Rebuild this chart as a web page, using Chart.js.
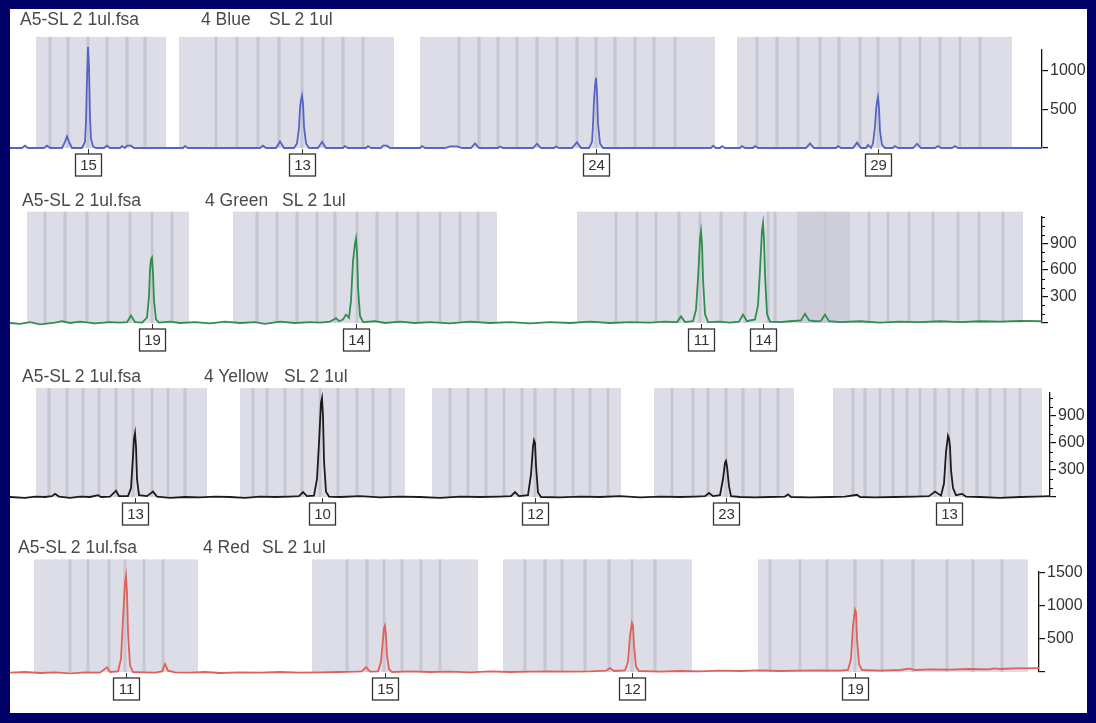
<!DOCTYPE html>
<html>
<head>
<meta charset="utf-8">
<script src="https://cdn.jsdelivr.net/npm/chart.js@4.4.0/dist/chart.umd.min.js"></script>
<style>
html, body { margin: 0; padding: 0; width: 1096px; height: 723px; overflow: hidden; background: #000066; }
#sheet { position: absolute; left: 10px; top: 9px; width: 1077px; height: 704px; background: #ffffff; }
canvas { position: absolute; left: 0; top: 0; }
.ttl { position: absolute; font: 17.5px 'Liberation Sans', Arial, sans-serif; color: #4a4a4a; white-space: nowrap; line-height: 1; }
</style>
</head>
<body>
<div id="sheet"></div>
<canvas id="blue" width="1096" height="723"></canvas>
<canvas id="green" width="1096" height="723"></canvas>
<canvas id="yellow" width="1096" height="723"></canvas>
<canvas id="red" width="1096" height="723"></canvas>

<div class="ttl" style="left:20px;top:11px">A5-SL 2 1ul.fsa</div>
<div class="ttl" style="left:201px;top:11px">4 Blue</div>
<div class="ttl" style="left:269px;top:11px">SL 2 1ul</div>
<div class="ttl" style="left:22px;top:192px">A5-SL 2 1ul.fsa</div>
<div class="ttl" style="left:205px;top:192px">4 Green</div>
<div class="ttl" style="left:282px;top:192px">SL 2 1ul</div>
<div class="ttl" style="left:22px;top:368px">A5-SL 2 1ul.fsa</div>
<div class="ttl" style="left:204px;top:368px">4 Yellow</div>
<div class="ttl" style="left:284px;top:368px">SL 2 1ul</div>
<div class="ttl" style="left:18px;top:539px">A5-SL 2 1ul.fsa</div>
<div class="ttl" style="left:203px;top:539px">4 Red</div>
<div class="ttl" style="left:262px;top:539px">SL 2 1ul</div>

<script>
// ---- data (x = scan position, y = RFU) ----

// blue dye
const blueTrace = [[10,0],[22,0],[25,30],[28,0],[44,0],[47,30],[50,0],[62,0],[65,80],[67,150],[69,80],[72,0],[82,0],[85,80],[86,350],[87,900],[88,1310],[89,1050],[90,400],[91,120],[93,20],[96,0],[104,0],[107,30],[110,0],[120,0],[122,25],[125,0],[127,30],[131,30],[134,0],[183,0],[185,25],[188,0],[260,0],[263,30],[266,0],[276,0],[280,85],[284,0],[294,0],[297,60],[299,260],[300,520],[301,620],[302,680],[303,580],[304,280],[306,60],[309,0],[318,0],[322,80],[326,0],[343,0],[345,25],[348,0],[366,0],[368,25],[371,0],[381,0],[383,30],[387,30],[390,0],[420,0],[422,25],[425,0],[445,0],[450,20],[457,20],[462,0],[471,0],[475,60],[479,0],[498,0],[500,20],[503,0],[533,0],[537,55],[541,0],[554,0],[556,20],[559,0],[572,0],[577,75],[581,0],[589,0],[592,80],[593,300],[594,620],[595,800],[596,910],[597,720],[598,320],[600,60],[603,0],[711,0],[713,30],[716,0],[720,0],[722,25],[725,0],[740,0],[742,25],[745,0],[753,0],[755,25],[758,0],[806,0],[810,60],[814,0],[836,0],[838,25],[841,0],[853,0],[857,70],[861,0],[866,0],[868,40],[871,0],[873,60],[875,280],[876,480],[877,600],[878,660],[879,520],[880,220],[882,40],[885,0],[893,0],[895,25],[898,0],[913,0],[917,55],[921,0],[935,0],[938,25],[941,0],[952,0],[955,25],[958,0],[1042,0]];
const blueBins = [[36,166],[179,394],[420,715],[737,1012]];
const blueBinLines = [50,68,88,107,127,145,216,237,258,279,302,323,343,363,459,479,498,517,537,557,577,596,615,635,654,675,757,777,798,820,839,860,878,900,920,940,960,980];
const blueCalls = [[88,'15'],[302,'13'],[596,'24'],[878,'29']];
const blueTicks = [0,500,1000];

// green dye
const greenTrace = [[10,0],[20,-10],[30,10],[40,-15],[55,5],[62,20],[70,0],[80,15],[95,-5],[110,10],[120,5],[127,10],[131,85],[135,10],[142,5],[147,60],[149,300],[150,600],[151,720],[152,740],[153,560],[154,250],[156,40],[159,5],[170,15],[180,0],[195,10],[210,-5],[225,15],[240,0],[255,10],[265,-10],[280,15],[295,0],[310,10],[320,5],[330,15],[336,55],[339,20],[343,40],[346,95],[349,60],[351,250],[353,700],[355,900],[356,955],[357,800],[358,400],[360,80],[363,10],[375,20],[385,0],[400,15],[415,0],[430,10],[450,-5],[470,15],[490,0],[510,10],[530,-5],[550,10],[570,0],[590,15],[610,0],[630,10],[650,5],[665,15],[677,10],[681,75],[685,10],[693,20],[696,150],[698,500],[700,950],[701,1040],[702,900],[703,500],[705,100],[708,10],[720,15],[730,5],[739,15],[743,95],[747,20],[755,40],[758,200],[760,600],[762,1050],[763,1130],[764,950],[765,550],[767,100],[770,15],[780,10],[790,20],[801,30],[805,105],[809,30],[815,20],[821,25],[825,95],[829,20],[840,10],[860,20],[880,5],[900,15],[920,10],[940,20],[960,10],[980,20],[1000,15],[1020,25],[1042,20]];
const greenBins = [[27,189],[233,497],[577,1023]];
const greenDarkBins = [[797,850]];
const greenBinLines = [45,65,87,108,130,152,172,257,277,297,317,335,357,377,397,418,440,460,478,616,637,656,679,700,721,745,768,775,825,869,888,909,933,958,979,1003];
const greenCalls = [[152,'19'],[356,'14'],[701,'11'],[763,'14']];
const greenTicks = [0,300,600,900];
const greenMinor = [100,200,400,500,700,800,1000,1100,1200];

// yellow dye (drawn in black)
const yellowTrace = [[10,0],[25,-10],[35,5],[45,0],[52,10],[55,35],[59,5],[70,-10],[80,5],[90,0],[98,20],[101,0],[110,5],[116,70],[119,10],[128,10],[131,100],[133,450],[134,650],[135,710],[136,560],[137,200],[139,20],[147,10],[153,60],[157,5],[170,-10],[185,0],[200,-5],[215,5],[230,0],[245,-10],[260,5],[275,0],[290,5],[299,10],[303,55],[307,10],[314,15],[317,200],[319,600],[321,1050],[322,1100],[323,900],[324,400],[326,60],[329,5],[340,0],[360,10],[380,-5],[400,5],[420,0],[440,-10],[460,5],[480,0],[500,5],[511,10],[515,55],[519,10],[528,20],[531,250],[533,560],[534,630],[535,600],[536,350],[538,50],[541,0],[560,-5],[580,5],[600,0],[620,10],[640,-5],[660,5],[680,0],[695,5],[705,10],[709,45],[713,10],[720,20],[723,200],[725,380],[726,400],[727,340],[729,120],[731,10],[740,0],[755,-5],[770,0],[785,5],[788,30],[791,0],[810,-5],[830,0],[845,5],[857,25],[860,0],[875,-5],[895,0],[915,5],[929,10],[935,60],[941,15],[944,150],[946,500],[948,680],[949,650],[950,560],[951,300],[953,100],[956,20],[962,35],[966,5],[980,0],[1000,-10],[1020,0],[1035,5],[1050,10]];
const yellowBins = [[36,207],[240,405],[432,621],[654,794],[833,1042]];
const yellowBinLines = [49,67,83,99,116,133,152,168,185,253,267,285,302,320,338,357,373,390,450,468,486,504,522,535,555,573,590,608,672,693,708,726,743,760,778,853,865,880,893,907,920,935,949,963,977,990,1005,1020];
const yellowCalls = [[135,'13'],[322,'10'],[535,'12'],[726,'23'],[949,'13']];
const yellowTicks = [0,300,600,900];
const yellowMinor = [100,200,400,500,700,800,1000,1100];

// red dye
const redTrace = [[10,-10],[25,0],[40,-15],[55,-5],[70,-20],[85,-5],[100,-10],[107,70],[110,0],[118,10],[121,200],[123,800],[125,1350],[126,1450],[127,1200],[128,600],[130,100],[133,0],[145,-5],[155,-10],[162,10],[165,120],[168,20],[175,-5],[190,-10],[205,0],[220,-15],[240,-5],[260,-10],[280,0],[300,-10],[320,-5],[340,0],[355,5],[362,10],[366,75],[370,5],[378,10],[381,150],[383,500],[384,660],[385,700],[386,550],[387,250],[389,40],[392,0],[410,10],[430,0],[450,5],[470,-5],[490,10],[510,0],[530,5],[550,10],[570,5],[590,10],[606,20],[610,60],[614,15],[625,25],[628,150],[630,550],[632,740],[633,700],[634,400],[636,80],[639,15],[660,5],[680,15],[700,10],[720,20],[740,15],[760,25],[780,15],[800,20],[820,25],[840,20],[848,30],[851,200],[853,700],[855,940],[856,900],[857,500],[859,120],[862,30],[880,20],[900,30],[910,50],[915,30],[930,40],[950,35],[970,45],[990,40],[994,55],[1000,45],[1015,55],[1039,60]];
const redBins = [[34,198],[312,478],[503,692],[758,1028]];
const redBinLines = [70,88,109,125,144,163,347,367,384,402,421,440,525,545,562,585,609,632,655,770,800,827,855,882,913,947,973,1002];
const redCalls = [[126,'11'],[385,'15'],[632,'12'],[855,'19']];
const redTicks = [0,500,1000,1500];

const FONT = "'Liberation Sans', Arial, sans-serif";

// draws the allele bins under the trace and the boxed calls over it
function makeLayer(p) {
  return {
    id: 'gmLayer',
    beforeDatasetsDraw(chart) {
      const ctx = chart.ctx, xs = chart.scales.x, ys = chart.scales.y;
      const top = ys.getPixelForValue(p.binTop), bottom = ys.getPixelForValue(0);
      ctx.save();
      ctx.fillStyle = '#dcdde6';
      p.bins.forEach(([a, b]) => {
        const x0 = xs.getPixelForValue(a);
        ctx.fillRect(x0, top, xs.getPixelForValue(b) - x0, bottom - top);
      });
      ctx.fillStyle = '#cdced9';
      (p.darkBins || []).forEach(([a, b]) => {
        const x0 = xs.getPixelForValue(a);
        ctx.fillRect(x0, top, xs.getPixelForValue(b) - x0, bottom - top);
      });
      ctx.fillStyle = '#c6c7d2';
      p.binLines.forEach(v => {
        ctx.fillRect(xs.getPixelForValue(v) - 1.5, top, 3, bottom - top);
      });
      ctx.restore();
    },
    afterDatasetsDraw(chart) {
      const ctx = chart.ctx, xs = chart.scales.x, ys = chart.scales.y;
      const base = ys.getPixelForValue(0);
      ctx.save();
      ctx.strokeStyle = '#333';
      ctx.fillStyle = '#333';
      ctx.font = '15px ' + FONT;
      ctx.textAlign = 'center';
      ctx.textBaseline = 'middle';
      p.calls.forEach(([v, label]) => {
        const px = Math.round(xs.getPixelForValue(v)) + 0.5;
        ctx.lineWidth = 1;
        ctx.beginPath();
        ctx.moveTo(px, base + 1);
        ctx.lineTo(px, base + 6);
        ctx.stroke();
        ctx.fillStyle = '#fff';
        ctx.fillRect(px - 13, base + 6, 26, 22);
        ctx.lineWidth = 1.3;
        ctx.strokeRect(px - 13, base + 6, 26, 22);
        ctx.fillStyle = '#333';
        ctx.fillText(label, px, base + 17.5);
      });
      // minor ticks on the RFU axis
      const right = chart.chartArea.right;
      ctx.lineWidth = 1;
      ctx.strokeStyle = '#111';
      (p.minor || []).forEach(v => {
        const py = Math.round(ys.getPixelForValue(v)) + 0.5;
        ctx.beginPath();
        ctx.moveTo(right, py);
        ctx.lineTo(right + 3, py);
        ctx.stroke();
      });
      ctx.restore();
    }
  };
}

function buildChart(id, p, geo) {
  return new Chart(document.getElementById(id), {
    type: 'line',
    data: {
      datasets: [{
        data: p.trace.map(d => ({ x: d[0], y: d[1] })),
        borderColor: p.color,
        borderWidth: 1.8,
        pointRadius: 0,
        tension: 0,
        clip: false
      }]
    },
    options: {
      responsive: false,
      animation: false,
      events: [],
      layout: { padding: { left: geo.left, right: 0, top: geo.axisTop, bottom: 723 - geo.baseline } },
      plugins: { legend: { display: false }, tooltip: { enabled: false } },
      scales: {
        x: { type: 'linear', display: false, min: geo.left, max: geo.axisX },
        y: {
          position: 'right',
          min: 0,
          max: p.yMax,
          afterBuildTicks: s => { s.ticks = p.ticks.map(v => ({ value: v })); },
          afterFit: s => { s.width = 1096 - geo.axisX; },
          ticks: {
            autoSkip: false,
            padding: 2,
            color: '#333',
            font: { size: 16, family: FONT },
            callback: v => (v === 0 ? '' : String(v))
          },
          grid: { drawOnChartArea: false, drawTicks: true, tickLength: 6, color: '#111', lineWidth: 1.2 },
          border: { display: true, color: '#111', width: 1.3 }
        }
      }
    },
    plugins: [makeLayer(p)]
  });
}

buildChart('blue',
  { trace: blueTrace, bins: blueBins, binLines: blueBinLines, calls: blueCalls, ticks: blueTicks, yMax: 1270, binTop: 1440, color: '#5565c6' },
  { left: 10, axisX: 1042, axisTop: 50, baseline: 148 });
buildChart('green',
  { trace: greenTrace, bins: greenBins, darkBins: greenDarkBins, binLines: greenBinLines, calls: greenCalls, ticks: greenTicks, minor: greenMinor, yMax: 1200, binTop: 1260, color: '#2f8f4e' },
  { left: 10, axisX: 1042, axisTop: 217, baseline: 323 });
buildChart('yellow',
  { trace: yellowTrace, bins: yellowBins, binLines: yellowBinLines, calls: yellowCalls, ticks: yellowTicks, minor: yellowMinor, yMax: 1155, binTop: 1210, color: '#1c1c1c' },
  { left: 10, axisX: 1050, axisTop: 393, baseline: 497 });
buildChart('red',
  { trace: redTrace, bins: redBins, binLines: redBinLines, calls: redCalls, ticks: redTicks, yMax: 1510, binTop: 1700, color: '#e0605a' },
  { left: 10, axisX: 1039, axisTop: 572, baseline: 672 });
</script>
</body>
</html>
